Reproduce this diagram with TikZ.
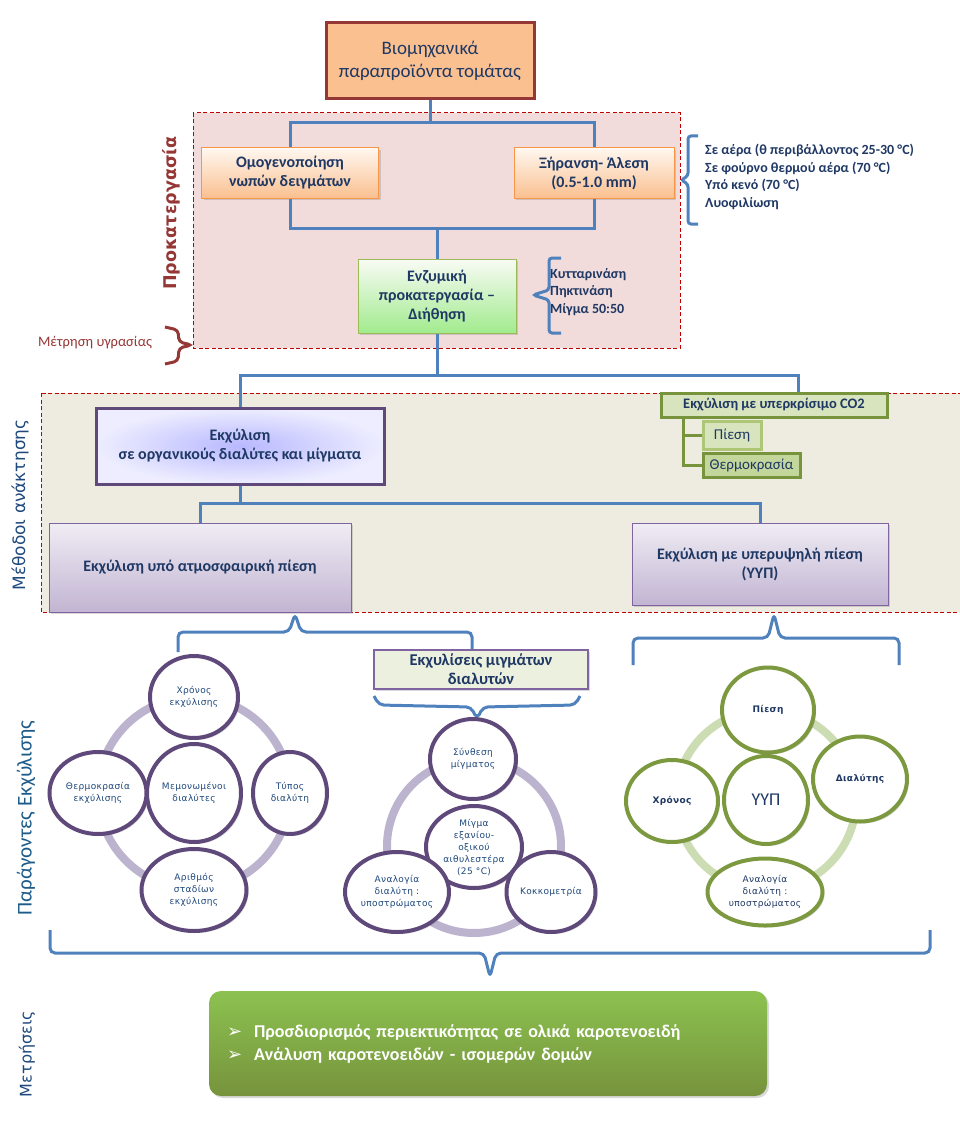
\documentclass[tikz,border=0pt]{standalone}
\usepackage{fontspec}
\setmainfont{Carlito}
\newfontfamily\dejavu{DejaVu Sans}
\newfontfamily\dejavuwide[LetterSpace=4]{DejaVu Sans}
\usetikzlibrary{shapes.geometric,shadows}

\definecolor{txtblue}{HTML}{1F3864}
\definecolor{linkblue}{HTML}{4F81BD}
\definecolor{darkred}{HTML}{953735}
\definecolor{peach}{HTML}{FAC090}
\definecolor{orangeedge}{HTML}{F79646}
\definecolor{pinkbg}{HTML}{F2DCDB}
\definecolor{beigebg}{HTML}{EEECE1}
\definecolor{dashred}{HTML}{C00000}
\definecolor{lightgreen}{HTML}{D7E4BD}
\definecolor{midgreen}{HTML}{C3D69B}
\definecolor{olive}{HTML}{77933C}
\definecolor{leafgreen}{HTML}{9BBB59}
\definecolor{palegreen}{HTML}{EBF1DE}
\definecolor{plum}{HTML}{5F497A}
\definecolor{lavender}{HTML}{8064A2}
\definecolor{ringpurple}{HTML}{BCB3CE}
\definecolor{ringgreen}{HTML}{CDDDB3}
\definecolor{headblue}{HTML}{1F497D}

\begin{document}
\begin{tikzpicture}[x=1pt,y=-1pt,
  link/.style={draw=linkblue, line width=3pt},
  areaedge/.style={draw=dashred, line width=1pt, dash pattern=on 4pt off 2.5pt},
  bracered/.style={draw=darkred, line width=3pt, rounded corners=4pt},
  braceblue/.style={draw=linkblue, line width=3pt, rounded corners=5pt},
  softshadow/.style={drop shadow={opacity=0.3, shadow xshift=2pt, shadow yshift=-2pt}},
  boxtext/.style={align=center, inner sep=0pt, text=txtblue, font=\bfseries\fontsize{16}{19}\selectfont},
  rawbox/.style={boxtext, draw=darkred, line width=3pt, fill=peach, font=\fontsize{19}{23}\selectfont},
  orangebox/.style={boxtext, softshadow, draw=orangeedge, line width=1pt, top color=orange!6, bottom color=peach},
  enzbox/.style={boxtext, softshadow, draw=leafgreen, line width=1pt, top color=white!85!lightgreen, bottom color=green!25!lightgreen},
  bluebox/.style={boxtext, draw=plum, line width=3pt, inner color=blue!28!white, outer color=blue!7!white},
  co2box/.style={boxtext, draw=olive, line width=3pt, fill=lightgreen, font=\bfseries\fontsize{14.5}{17}\selectfont},
  subbox/.style={boxtext, line width=3pt, font=\fontsize{15}{18}\selectfont},
  purplebox/.style={boxtext, softshadow, draw=lavender, line width=1pt, top color=lavender!12, bottom color=lavender!48},
  mixbox/.style={boxtext, softshadow, draw=lavender, line width=1.2pt, fill=palegreen, font=\bfseries\fontsize{16.5}{19}\selectfont},
  measbox/.style={softshadow, rounded corners=12pt, top color=leafgreen!90!green, bottom color=olive, align=left, text=white, font=\bfseries\fontsize{18}{23}\selectfont},
  listtext/.style={align=left, inner sep=0pt, text=txtblue, font=\bfseries\fontsize{14}{17.5}\selectfont},
  sidelabel/.style={rotate=90, inner sep=0pt},
  ring/.style={draw=#1, line width=8pt},
  purplecirc/.style={ellipse, softshadow, draw=plum, line width=4pt, fill=white, inner sep=0pt, align=center, text=headblue, font=\dejavuwide\fontsize{9}{12}\selectfont},
  greencirc/.style={ellipse, softshadow, draw=olive!85!leafgreen, line width=4pt, fill=white, inner sep=0pt, align=center, text=txtblue, font=\dejavuwide\fontsize{9}{12}\selectfont}]
\useasboundingbox (0,0) rectangle (960,1134);

% areas
\fill[pinkbg] (193,113) rectangle (680,348);
\draw[areaedge] (193,113) rectangle (680,348);
\fill[beigebg] (41,393) rectangle (965,612);
\draw[areaedge] (41,393) rectangle (965,612);

\node[sidelabel, text=darkred, font=\dejavu\bfseries\fontsize{17.5}{22}\selectfont] (prolabel) at (171,213) {Προκατεργασία};
\node[sidelabel, text=headblue, font=\dejavu\fontsize{17}{20}\selectfont] (methlabel) at (20,505) {Μέθοδοι ανάκτησης};
\node[sidelabel, text=headblue!90!cyan, font=\fontsize{21}{24}\selectfont] (factlabel) at (26,818) {Παράγοντες Εκχύλισης};
\node[sidelabel, text=headblue, font=\dejavu\fontsize{16}{19}\selectfont] (measlabel) at (27,1054) {Μετρήσεις};

% pretreatment
\node[rawbox, minimum width=208, minimum height=76] (raw) at (430,61) {Βιομηχανικά\\παραπροϊόντα τομάτας};
\node[orangebox, minimum width=177, minimum height=50] (homog) at (290,173) {Ομογενοποίηση\\νωπών δειγμάτων};
\node[orangebox, minimum width=160, minimum height=50] (dry) at (594,173) {Ξήρανση- Άλεση\\(0.5-1.0 mm)};
\node[enzbox, minimum width=158, minimum height=74] (enz) at (437,296) {Ενζυμική\\προκατεργασία –\\Διήθηση};
\node[listtext, anchor=west] (drylist) at (705,177) {Σε αέρα (θ περιβάλλοντος 25-30 °C)\\Σε φούρνο θερμού αέρα (70 °C)\\Υπό κενό (70 °C)\\Λυοφιλίωση};
\node[listtext, anchor=west] (enzlist) at (550,292) {Κυτταρινάση\\Πηκτινάση\\Μίγμα 50:50};
\node[inner sep=0pt, text=darkred, font=\fontsize{14.5}{17}\selectfont] (moist) at (95,343) {Μέτρηση υγρασίας};

\coordinate (j1) at (430,123);
\coordinate (j2) at (437,228);
\coordinate (j3) at (437,375);
\coordinate (j4) at (240,503);
\draw[link] (raw) -- (j1) -| (homog);
\draw[link] (j1) -| (dry);
\draw[link] (homog) |- (j2);
\draw[link] (dry) |- (j2);
\draw[link] (j2) -- (enz);

\draw[braceblue, rounded corners=3pt] (698,136) -- (688,136) -- (688,176) -- (681,180) -- (688,184) -- (688,224) -- (698,224);
\draw[braceblue, rounded corners=3pt] (561,258) -- (549,258) -- (549,290) -- (533,295) -- (549,300) -- (549,333) -- (561,333);
\draw[bracered] (165,327) -- (178,330) -- (179,342) -- (192,345) -- (179,348) -- (178,361) -- (165,364);

% recovery methods
\node[bluebox, minimum width=288, minimum height=76] (organic) at (240,446) {Εκχύλιση\\σε οργανικούς διαλύτες και μίγματα};
\node[co2box, minimum width=226, minimum height=24] (co2) at (774,405) {Εκχύλιση με υπερκρίσιμο CO2};
\node[subbox, draw=leafgreen!70!lightgreen, fill=lightgreen, minimum width=58, minimum height=28] (press) at (732,435) {Πίεση};
\node[subbox, draw=olive, fill=midgreen, minimum width=97, minimum height=24] (temp) at (751.5,465) {Θερμοκρασία};
\node[purplebox, minimum width=302, minimum height=89] (atm) at (200,567.5) {Εκχύλιση υπό ατμοσφαιρική πίεση};
\node[purplebox, minimum width=256, minimum height=82] (uhp) at (760,564) {Εκχύλιση με υπερυψηλή πίεση\\(ΥΥΠ)};

\draw[link] (enz) -- (j3);
\draw[link] (j3) -| (organic);
\draw[link] (j3) -| ([xshift=24pt]co2.north);
\draw[link] (organic) -- (j4);
\draw[link] (j4) -| (atm);
\draw[link] (j4) -| (uhp);
\draw[draw=olive, line width=3pt] ([xshift=24pt]co2.south west) |- (press);
\draw[draw=olive, line width=3pt] ([xshift=24pt]co2.south west) |- (temp);

% extraction factors
\draw[braceblue] (178,652) -- (178,632) -- (289,632) -- (295,614) -- (301,632) -- (472,632) -- (472,652);
\draw[braceblue] (633,665) -- (633,638) -- (768,638) -- (774,614) -- (780,638) -- (899,638) -- (899,665);
\node[mixbox, minimum width=214, minimum height=39] (mix) at (481,669.5) {Εκχυλίσεις μιγμάτων\\διαλυτών};
\draw[braceblue] (374,696) -- (379,705) -- (471,707) -- (477,719) -- (483,707) -- (575,705) -- (580,696);

\draw[ring=ringpurple] (194,793) circle[radius=96];
\node[purplecirc, minimum width=94, minimum height=98] (lc3) at (194,793) {Μεμονωμένοι\\διαλύτες};
\node[purplecirc, minimum width=88, minimum height=82] (lc1) at (194,697) {Χρόνος\\εκχύλισης};
\node[purplecirc, minimum width=97, minimum height=82] (lc2) at (98,793) {Θερμοκρασία\\εκχύλισης};
\node[purplecirc, minimum width=74, minimum height=82] (lc4) at (290,793) {Τύπος\\διαλύτη};
\node[purplecirc, minimum width=105, minimum height=82] (lc5) at (194,890) {Αριθμός\\σταδίων\\εκχύλισης};

\draw[ring=ringpurple] (474,846) circle[radius=87];
\node[purplecirc, minimum width=96, minimum height=82] (mc2) at (474,847) {Μίγμα\\εξανίου-\\οξικού\\αιθυλεστέρα\\(25 °C)};
\node[purplecirc, minimum width=86, minimum height=80] (mc1) at (473,759) {Σύνθεση\\μίγματος};
\node[purplecirc, minimum width=104, minimum height=80] (mc3) at (397,892) {Αναλογία\\διαλύτη :\\υποστρώματος};
\node[purplecirc, minimum width=89, minimum height=80] (mc4) at (551,892) {Κοκκομετρία};

\draw[ring=ringgreen] (766,800) circle[radius=90];
\node[greencirc, minimum width=84, minimum height=88, font=\fontsize{18}{20}\selectfont] (rc3) at (766,800) {ΥΥΠ};
\node[greencirc, minimum width=92, minimum height=85, font=\dejavuwide\bfseries\fontsize{9}{12}\selectfont] (rc1) at (768,710) {Πίεση};
\node[greencirc, minimum width=92, minimum height=82, font=\dejavuwide\bfseries\fontsize{9}{12}\selectfont] (rc2) at (672,801) {Χρόνος};
\node[greencirc, minimum width=94, minimum height=85, font=\dejavuwide\bfseries\fontsize{9}{12}\selectfont] (rc4) at (860,779) {Διαλύτης};
\node[greencirc, minimum width=115, minimum height=67] (rc5) at (765,892) {Αναλογία\\διαλύτη :\\υποστρώματος};

% measurements
\draw[braceblue] (50,930) -- (50,953) -- (484,953) -- (490,977) -- (496,953) -- (930,953) -- (930,930);
\node[measbox, minimum width=558, minimum height=105, text width=522, inner xsep=18pt] (meas) at (488,1043.5)
  {{\dejavu ➢}\hspace{12pt}Προσδιορισμός περιεκτικότητας σε ολικά καροτενοειδή\\{\dejavu ➢}\hspace{12pt}Ανάλυση καροτενοειδών - ισομερών δομών};
\end{tikzpicture}
\end{document}
